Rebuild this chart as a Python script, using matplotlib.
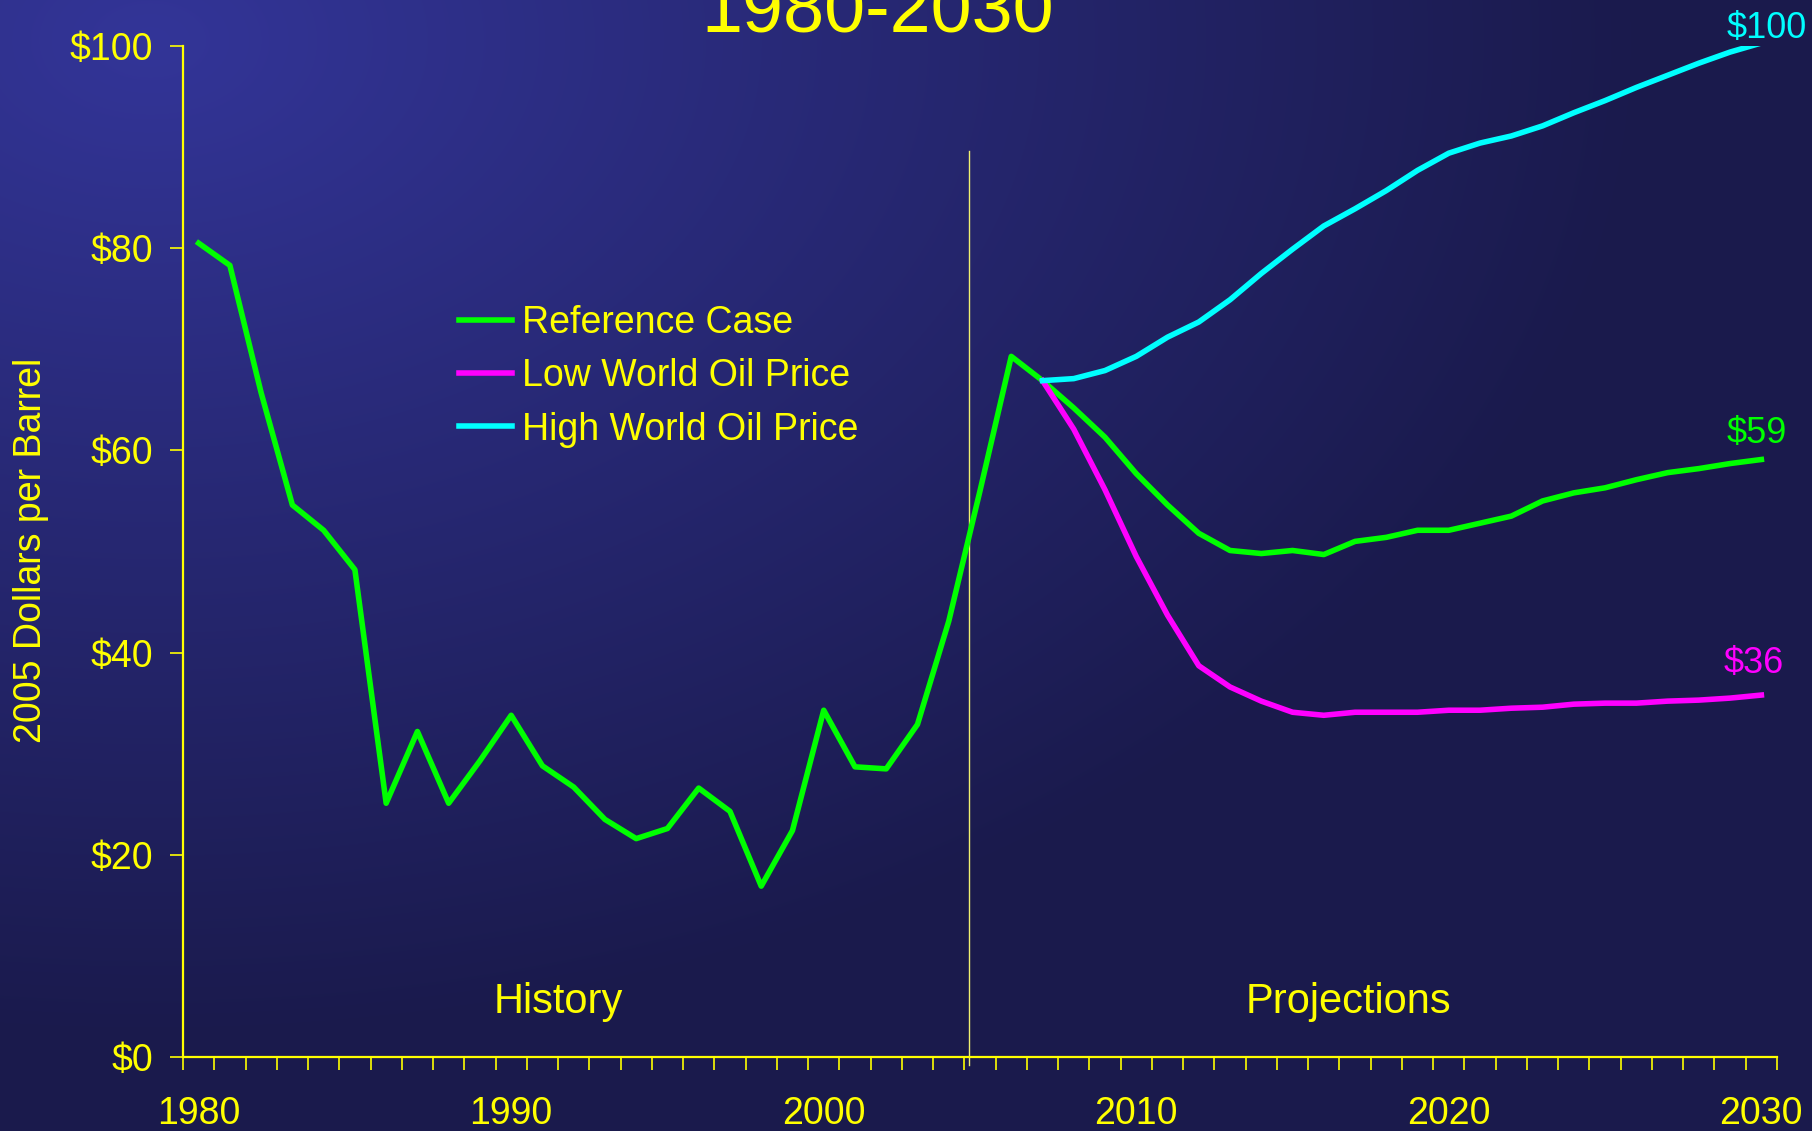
import numpy as np
import matplotlib
matplotlib.use("Agg")
import matplotlib.pyplot as plt
from matplotlib.ticker import FixedLocator, FuncFormatter

plt.rcParams['font.family'] = ['Liberation Sans', 'DejaVu Sans']

# --- data (2005 dollars per barrel) ---
years_ref = list(range(1980, 2031))
reference = [80.5, 78.3, 65.7, 54.6, 52.1, 48.2, 25.1, 32.2, 25.1, 29.3,
             33.8, 28.8, 26.7, 23.5, 21.6, 22.6, 26.6, 24.3, 16.9, 22.4,
             34.3, 28.7, 28.5, 32.9, 43.1, 56.0, 69.3, 66.9, 64.2, 61.3,
             57.7, 54.6, 51.8, 50.1, 49.8, 50.1, 49.7, 51.0, 51.4, 52.1,
             52.1, 52.8, 53.5, 55.0, 55.8, 56.3, 57.1, 57.8, 58.2, 58.7,
             59.1]

years_proj = list(range(2007, 2031))
low_price = [66.9, 62.1, 56.1, 49.5, 43.7, 38.7, 36.6, 35.2, 34.1, 33.8,
             34.1, 34.1, 34.1, 34.3, 34.3, 34.5, 34.6, 34.9, 35.0, 35.0,
             35.2, 35.3, 35.5, 35.8]
high_price = [66.9, 67.1, 67.9, 69.3, 71.2, 72.7, 74.9, 77.5, 79.9, 82.2,
              83.9, 85.7, 87.7, 89.4, 90.4, 91.1, 92.1, 93.4, 94.6, 95.9,
              97.1, 98.3, 99.4, 100.3]

end_labels = ["$100", "$59", "$36"]
label_years = [1980, 1990, 2000, 2010, 2020, 2030]

YELLOW = '#FFFF00'
GREEN = '#00FF00'
MAGENTA = '#FF00FF'
CYAN = '#00FFFF'

fig = plt.figure(figsize=(18.12, 11.31), dpi=100)

# --- gradient background ---
bg = fig.add_axes([0, 0, 1, 1], zorder=-10)
H, W = 1131, 1812
yy, xx = np.mgrid[0:H, 0:W]
f = np.sqrt(((xx - 150) / 1500.0) ** 2 + ((yy - 40) / 1000.0) ** 2)
f = np.clip(f, 0, 1)[..., None]
light = np.array([51, 53, 152]) / 255.0
dark = np.array([26, 26, 76]) / 255.0
img = light * (1 - f) + dark * f
bg.imshow(img, aspect='auto', extent=[0, 1, 0, 1], origin='upper')
bg.axis('off')

# --- main axes ---
ax = fig.add_axes([183 / 1812, 1 - 1057 / 1131, (1777 - 183) / 1812, (1057 - 46) / 1131])
ax.set_facecolor('none')

ax.plot(years_ref, reference, color=GREEN, lw=4, label='Reference Case',
        solid_joinstyle='round', zorder=3)
ax.plot(years_proj, low_price, color=MAGENTA, lw=4, label='Low World Oil Price',
        solid_joinstyle='round', zorder=3)
ax.plot(years_proj, high_price, color=CYAN, lw=4, label='High World Oil Price',
        solid_joinstyle='round', zorder=3)

ax.set_xlim(1979.5, 2030.5)
ax.set_ylim(0, 100)

# history / projections divider
ax.plot([2004.65, 2004.65], [-0.8, 89.6], color='#F0F070', lw=1.0, clip_on=False, zorder=2)

# spines & ticks
for s in ['top', 'right']:
    ax.spines[s].set_visible(False)
for s in ['left', 'bottom']:
    ax.spines[s].set_color(YELLOW)
    ax.spines[s].set_linewidth(1.6)

ax.set_yticks(range(0, 101, 20))
ax.yaxis.set_major_formatter(FuncFormatter(lambda v, _: f'${int(v)}'))
ax.tick_params(axis='y', direction='out', length=9.5, width=1.2, color=YELLOW,
               labelcolor=YELLOW, labelsize=27, pad=12)

ax.xaxis.set_major_locator(FixedLocator(np.arange(1979.5, 2031, 1.0)))
ax.xaxis.set_major_formatter(FuncFormatter(lambda v, _: ''))
ax.xaxis.set_minor_locator(FixedLocator(label_years))
ax.xaxis.set_minor_formatter(FuncFormatter(lambda v, _: f'{int(round(v))}'))
ax.tick_params(axis='x', which='major', direction='out', length=9, width=1.2, color=YELLOW)
ax.tick_params(axis='x', which='minor', length=0, labelcolor=YELLOW, labelsize=27, pad=28)

# labels
fig.text(31 / 1812, 1 - 550 / 1131, '2005 Dollars per Barrel', rotation=90,
         color=YELLOW, fontsize=27, ha='center', va='center')
fig.text(878 / 1812, 1 - 31 / 1131, '1980-2030', color=YELLOW, fontsize=53,
         ha='center', va='baseline')

ax.text(1991.5, 4.35, 'History', color=YELLOW, fontsize=30, ha='center', va='baseline')
ax.text(2016.8, 4.35, 'Projections', color=YELLOW, fontsize=30, ha='center', va='baseline')

ax.text(2028.9, 100.8, end_labels[0], color=CYAN, fontsize=26, ha='left', va='baseline')
ax.text(2028.9, 60.7, end_labels[1], color=GREEN, fontsize=26, ha='left', va='baseline')
ax.text(2028.8, 38.0, end_labels[2], color=MAGENTA, fontsize=26, ha='left', va='baseline')

leg = ax.legend(loc='upper left', bbox_to_anchor=(459 / 1812, 1 - 305 / 1131),
                bbox_transform=fig.transFigure, frameon=False, fontsize=27,
                labelcolor=YELLOW, handlelength=1.42, handletextpad=0.27,
                labelspacing=0.46, borderpad=0, borderaxespad=0)

fig.savefig('out.png', dpi=100)
